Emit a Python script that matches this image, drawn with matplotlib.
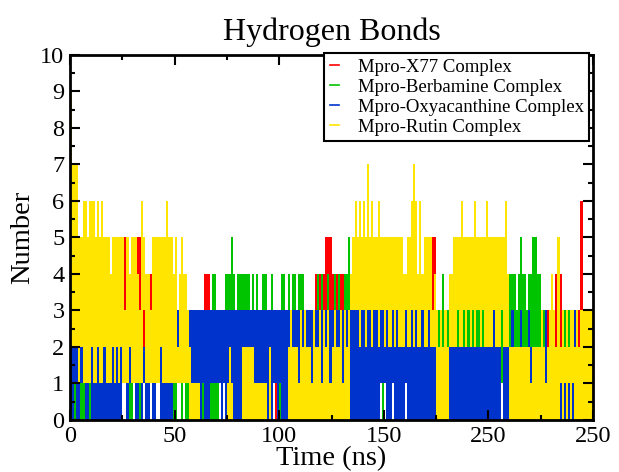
import numpy as np
import matplotlib.pyplot as plt
from matplotlib.lines import Line2D
from matplotlib.ticker import MultipleLocator

plt.rcParams['font.family'] = ['Liberation Serif', 'DejaVu Serif']

# number of hydrogen bonds, read per 1 ns window (0..250 ns):
# lowest and highest count reached inside each window
x77_lo = ("2222222222" "2222222222" "2222222222" "2222222222" "2222222222"
          "2222222222" "2222222222" "2222222222" "2222222222" "2222222202"
          "2222222222" "2222222222" "2222222222" "2222222222" "2222222222"
          "2222222222" "2222222222" "2222222222" "2222222222" "2222222222"
          "2222222222" "2222222222" "2222222222" "2222222222" "2222222222")
x77_hi = ("3333333333" "3333333333" "3333335333" "3355333343" "3333333333"
          "3333333333" "3333444333" "3333333333" "3333333333" "3333333333"
          "3333333333" "3333333444" "4455544444" "4433333333" "3333333333"
          "3333333333" "3333333333" "3335533333" "3333333333" "3333333333"
          "3333333333" "3333333333" "3333333333" "3343433333" "3333633333")

berb_lo = ("0000000000" "0000000000" "0000000000" "0000000000" "0000000000"
           "0000000000" "0000000000" "0101000000" "0000000000" "0000000110"
           "0000000000" "0000000000" "0000000000" "0000000000" "0000000010"
           "1000100000" "1000000000" "0000022222" "2111111111" "1111111111"
           "1111111111" "2222222222" "2222222222" "2222222222" "2222222222")
berb_hi = ("1111111111" "1111111111" "1111100111" "0111101101" "1001111111"
           "1001011111" "3333333344" "3333444543" "4444443434" "3344334333"
           "3443434434" "4433333343" "4334334343" "3445333333" "3333333333"
           "3333333333" "3333333333" "3333333343" "3333333333" "3333333333"
           "3333333333" "4443454434" "4554433323" "3323233332" "3332333333")

oxya_lo = ("0010011001" "0000000000" "0000011011" "1001010010" "0110000001"
           "1222222111" "1101000111" "1101011100" "0022222211" "1111010110"
           "1000111111" "1111111111" "1111111111" "1111000000" "0000000011"
           "1000100000" "1000000000" "0000000000" "0000000000" "0000000000"
           "0000002000" "1111111111" "1111100100" "0000000000" "0000000000")
oxya_hi = ("2222222222" "2222222222" "2222222222" "2222222222" "2222222222"
           "2333333333" "3333333333" "3333333333" "3333333333" "3333333333"
           "3333333333" "3333333333" "3333333333" "3333333333" "3333333333"
           "3333333333" "3333333333" "3333322222" "2222222222" "2222222222"
           "2232222222" "2322232223" "2222222322" "2222222222" "2322222222")

rutin_lo = ("2222121111" "2112112111" "2121211121" "1111131111" "1112111111"
            "1111111000" "0000000000" "0000000000" "0000000000" "0000000000"
            "0000000000" "0000000000" "0000000000" "0000333323" "3233233233"
            "2322323222" "3223232232" "2322200000" "0222232232" "3232332322"
            "2232223222" "0000000000" "0000000000" "0000101010" "1000000000")
rutin_hi = ("9777556656" "6656565554" "5555553545" "5543654435" "5555556554"
            "5245443211" "1100000000" "0000012100" "0022222211" "1111020000"
            "0000232221" "3232213223" "1323123223" "1323456565" "6575655655"
            "5555555554" "4556764645" "5553432323" "2445555655" "5556555556"
            "5555555564" "2222222222" "1222232123" "4325232323" "3232333333")

labels = ['Mpro-X77 Complex', 'Mpro-Berbamine Complex',
          'Mpro-Oxyacanthine Complex', 'Mpro-Rutin Complex']
colors = ['#ff0000', '#00c400', '#0033cc', '#ffe500']

x_ticks = [0, 50, 100, 150, 200, 250]
x_tick_labels = ['0', '50', '100', '150', '250', '250']


def to_arr(s):
    return np.array([int(c) for c in s])


edges = np.arange(0, 251)

fig = plt.figure(figsize=(6.19, 4.72), dpi=100)
ax = fig.add_axes([0.1131, 0.1102, 0.8449, 0.7733])

series = [(x77_lo, x77_hi), (berb_lo, berb_hi),
          (oxya_lo, oxya_hi), (rutin_lo, rutin_hi)]
for (lo, hi), c in zip(series, colors):
    ax.stairs(to_arr(hi), edges, baseline=to_arr(lo), fill=True,
              color=c, linewidth=0)

ax.set_xlim(0, 250)
ax.set_ylim(0, 10)
ax.set_xticks(x_ticks, x_tick_labels)
ax.xaxis.set_minor_locator(MultipleLocator(25))
ax.set_yticks(np.arange(0, 11))
ax.yaxis.set_minor_locator(MultipleLocator(0.5))
ax.tick_params(which='both', direction='in', top=True, right=True,
               width=1.5, color='black')
ax.tick_params(which='major', length=7, labelsize=17.5, pad=4)
ax.tick_params(which='minor', length=3.5)
for sp in ax.spines.values():
    sp.set_linewidth(2)

ax.set_title('Hydrogen Bonds', fontsize=23, pad=11)
ax.set_xlabel('Time (ns)', fontsize=20.5, labelpad=0)
ax.set_ylabel('Number', fontsize=20.5, labelpad=4)

handles = [Line2D([], [], color=c, lw=1.2) for c in colors]
leg = ax.legend(handles, labels, loc='upper right',
                bbox_to_anchor=(0.993, 1.005), borderaxespad=0,
                fontsize=13.5, fancybox=False, edgecolor='black',
                framealpha=1, handlelength=0.5, handletextpad=1.0,
                labelspacing=0.15, borderpad=0.3)
leg.get_frame().set_linewidth(1.5)

fig.savefig('out.png', dpi=100)
